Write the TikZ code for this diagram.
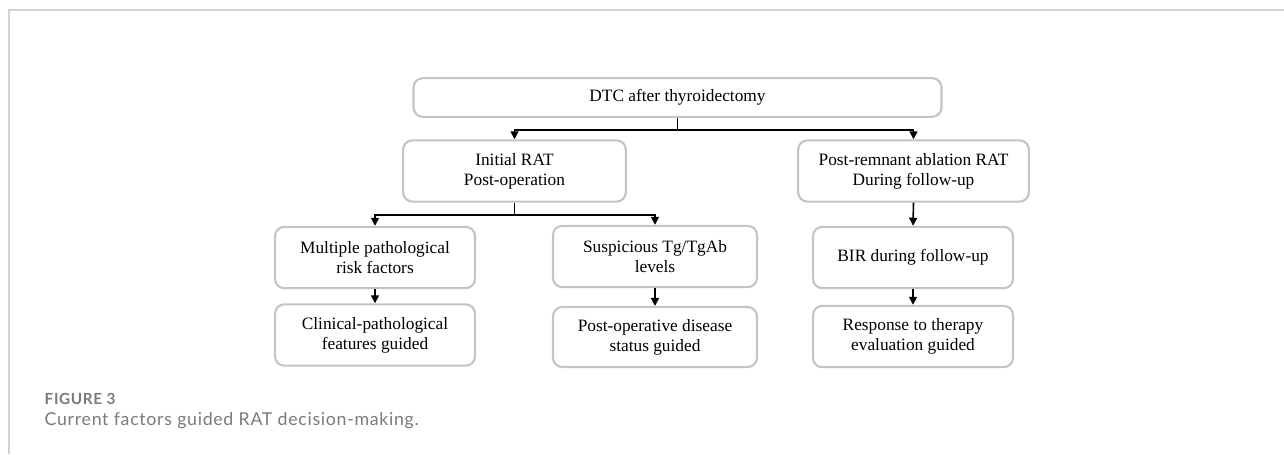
\documentclass[tikz,border=0pt]{standalone}
\usepackage{fontspec}
\setmainfont{Liberation Serif}
\newfontfamily\capfont[LetterSpace=4]{Lato}
\usetikzlibrary{arrows.meta}
\definecolor{boxgray}{HTML}{C4C4C4}
\definecolor{framegray}{HTML}{D2D2D2}
\definecolor{capgray}{HTML}{7A7A7A}
\tikzset{
  box/.style={draw=boxgray,line width=1.6pt,rounded corners=7pt,align=center,inner sep=0pt,
    font=\fontsize{13}{15}\selectfont},
  arr/.style={-{Triangle[length=6pt,width=6pt]},line width=1.2pt},
}
\begin{document}
\begin{tikzpicture}[x=0.75pt,y=-0.75pt]
\useasboundingbox (0,0) rectangle (1284,454);
\draw[framegray,line width=1.2pt] (9,454) -- (9,10) -- (1284,10);
\node[box,minimum width=396pt,minimum height=29pt] (dtc) at (677.5,97.5) {DTC after thyroidectomy};
\node[box,minimum width=167pt,minimum height=46pt] (init) at (514.5,171) {Initial RAT\\Post-operation};
\node[box,minimum width=173pt,minimum height=46pt] (post) at (913.5,171) {Post-remnant ablation RAT\\During follow-up};
\node[box,minimum width=150pt,minimum height=46pt] (multi) at (375,257.5) {Multiple pathological\\risk factors};
\node[box,minimum width=150pt,minimum height=46pt] (clin) at (375,335) {Clinical-pathological\\features guided};
\node[box,minimum width=153pt,minimum height=46pt] (susp) at (655,256.5) {Suspicious Tg/TgAb\\levels};
\node[box,minimum width=153pt,minimum height=45pt] (postop) at (655,337) {Post-operative disease\\status guided};
\node[box,minimum width=150pt,minimum height=46pt] (bir) at (913,257.5) {BIR during follow-up};
\node[box,minimum width=150pt,minimum height=46pt] (resp) at (913,336.5) {Response to therapy\\evaluation guided};
\draw[arr] (dtc.south) -- ++(0,12) -| (init.north);
\draw[arr] (dtc.south) -- ++(0,12) -| (post.north);
\draw[arr] (init.south) -- ++(0,12) -| (multi.north);
\draw[arr] (init.south) -- ++(0,12) -| (susp.north);
\draw[arr] (post.south) -- (bir.north);
\draw[arr] (bir.south) -- (resp.north);
\draw[arr] (multi.south) -- (clin.north);
\draw[arr] (susp.south) -- (postop.north);
\node[anchor=base west,text=capgray,font=\capfont\bfseries\fontsize{11.5}{13}\selectfont] (fig) at (40,404) {FIGURE 3};
\node[anchor=base west,text=capgray,font=\capfont\fontsize{13.3}{15}\selectfont] (cap) at (40,425) {Current factors guided RAT decision-making.};
\end{tikzpicture}
\end{document}
